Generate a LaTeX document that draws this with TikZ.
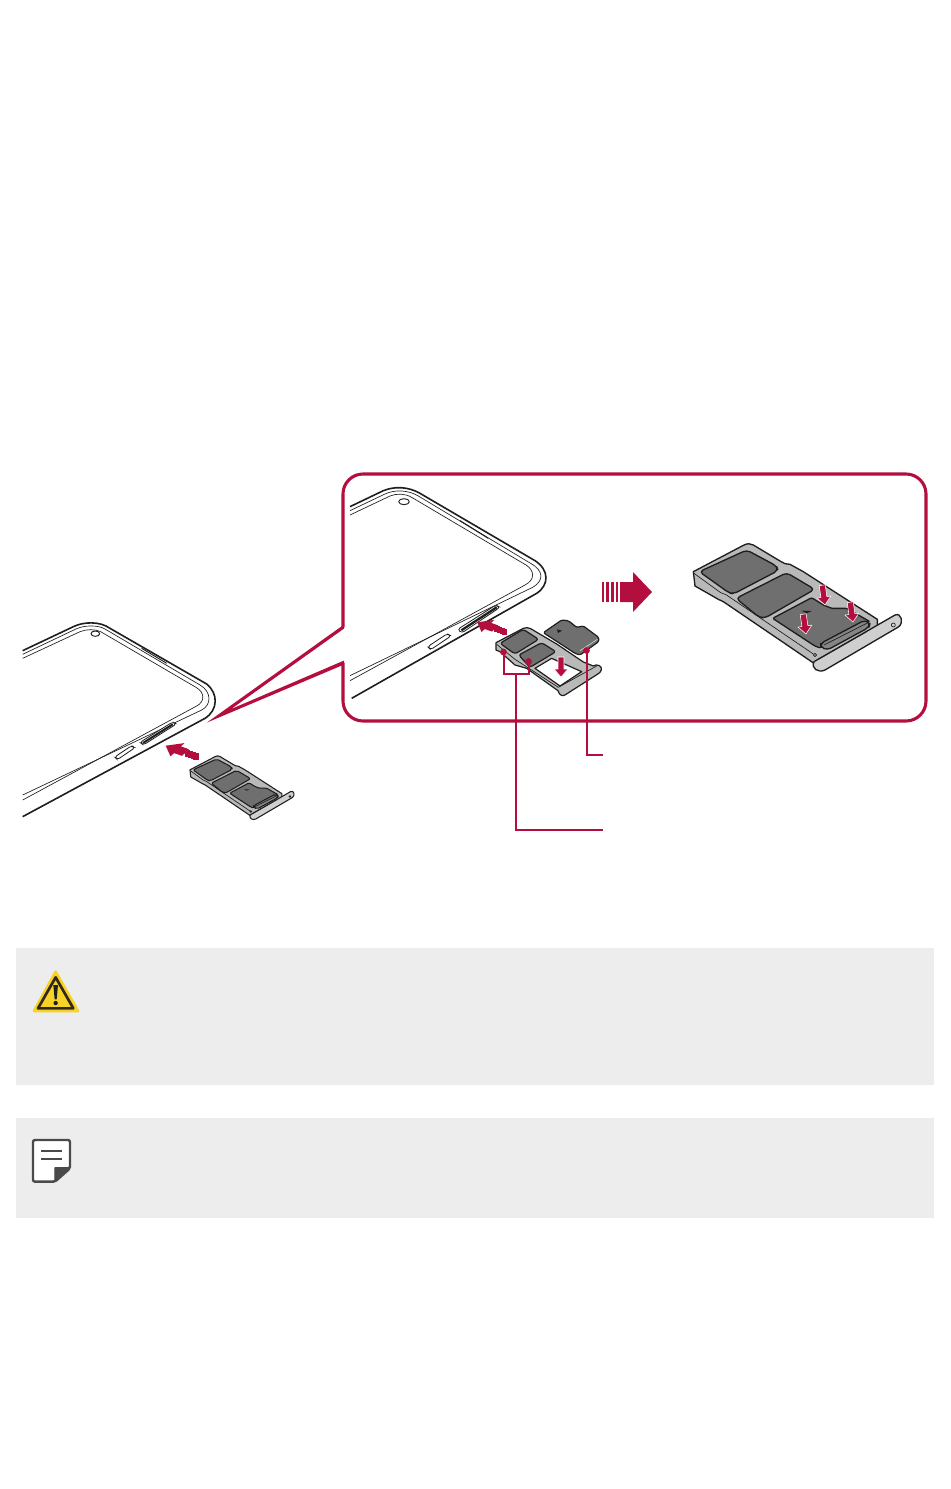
\documentclass[tikz,border=0pt]{standalone}
\definecolor{lgred}{HTML}{B30E3E}
\definecolor{ink}{HTML}{1E1E1E}
\definecolor{panel}{HTML}{EDEDED}
\definecolor{traygray}{HTML}{B9B9B9}
\definecolor{slotgray}{HTML}{6F6F6F}
\definecolor{lightgray2}{HTML}{CFCFCF}
\definecolor{notedark}{HTML}{4A4A4A}
\definecolor{warnyellow}{HTML}{F5D327}
\tikzset{
  outerline/.style={draw=ink,line width=1.2pt,line join=round},
  innerline/.style={draw=ink,line width=0.5pt,line join=round},
  redline/.style={draw=lgred,line width=2.3pt,line join=miter},
  leader/.style={draw=lgred,line width=1.5pt},
}
% striped arrow, tip at the origin, pointing along local +x
\newcommand{\stripearrow}[3]{%
  \begin{scope}[shift={(#1,#2)},#3]
    \fill[lgred] (0,0) -- (-19,-20) -- (-19,-10) -- (-32,-10) -- (-32,10) -- (-19,10) -- (-19,20) -- cycle;
    \foreach \a/\b in {-36/-34,-41/-38.5,-46/-43.5,-50/-48}{\fill[lgred] (\a,-10) rectangle (\b,10);}
  \end{scope}}
% small down arrow, tip at the origin
\newcommand{\downred}[4]{%
  \begin{scope}[shift={(#1,#2)},rotate=#3,scale=#4]
    \filldraw[fill=lgred,draw=white,line width=0.4pt,line join=miter] (0,0) -- (-7,-8) -- (-3,-8) -- (-3,-20) -- (3,-20) -- (3,-8) -- (7,-8) -- cycle;
  \end{scope}}
% complete tray, drawn in the coordinates of the large one: x, y, scale, line width, corner radius
\newcommand{\tray}[5]{%
  \begin{scope}[shift={(#1,#2)},scale=#3,every path/.append style={line join=round}]
    \path[draw=ink,line width=#4,fill=traygray] (310,125) -- (462,45) .. controls (472,40) and (482,40) .. (490,45) -- (570,93) -- (585,101) -- (600,103) -- (640,125) -- (862,268) -- (862,290) -- (700,410) -- (672,400) -- (400,215) -- (385,208) -- (315,168) -- cycle;
    \path[innerline] (312,130) -- (392,188) -- (408,194) -- (670,372);
    \path[draw=ink,line width=#4,fill=slotgray,rounded corners=#5] (328,125) -- (470,60) -- (560,108) -- (564,122) -- (430,192) -- (416,188) -- cycle;
    \path[draw=ink,line width=#4,fill=slotgray,rounded corners=#5] (438,205) -- (590,128) -- (674,178) -- (525,264) -- (508,262) -- cycle;
    \path[draw=ink,line width=#4,fill=slotgray,rounded corners=1pt] (548,265) -- (665,203) -- (700,225) -- (725,235) -- (770,235) -- (840,275) -- (690,354) -- (673,347) -- cycle;
    \path[draw=ink,line width=#4,fill=slotgray!85!white,rounded corners=#5] (692,340) -- (825,270) -- (840,280) -- (837,292) -- (712,360) -- (692,352) -- cycle;
    \path[innerline] (702,345) -- (830,280);
    \path[draw=ink,line width=#4,fill=lightgray2] (672,395) -- (915,255) .. controls (935,247) and (942,280) .. (925,291) -- (705,420) .. controls (685,430) and (662,415) .. (672,395) -- cycle;
    \path[innerline] (685,388) -- (830,305);
    \path[innerline,fill=lightgray2] (910,285) circle (6);
    \path[innerline] (675,375) circle (5);
    \fill[ink] (635,242) -- (665,243) -- (650,250) -- cycle;
  \end{scope}}
\begin{document}
\begin{tikzpicture}[x=0.75pt,y=-0.75pt]
\useasboundingbox (0,0) rectangle (950,1489);

% grey panels
\fill[panel] (16,948) rectangle (934,1085);
\fill[panel] (16,1118) rectangle (934,1218);

% warning icon
\begin{scope}[shift={(10,940)},scale=1/3]
  \path[fill=warnyellow,draw=warnyellow,line width=2pt,line join=round] (137,95) -- (72,213) -- (204,213) -- cycle;
  \path[draw=ink!90!orange,line width=2pt,line join=round,fill=warnyellow] (137,112) -- (84,205) -- (190,205) -- cycle;
  \fill[ink] (130,135) -- (144,135) -- (140,178) -- (134,178) -- cycle;
  \fill[ink] (137,189) circle (6.5);
\end{scope}

% note icon
\begin{scope}[shift={(10,940)},scale=1/3]
  \path[draw=notedark,fill=white,line width=1.8pt,rounded corners=1.5pt,line join=round] (69,600) -- (180,600) -- (180,685) -- (135,725) -- (69,725) -- cycle;
  \path[fill=notedark,draw=notedark,line width=1pt,line join=round] (135,725) -- (135,683) -- (180,683) -- cycle;
  \draw[notedark,line width=1.4pt] (94,632) -- (156,632) (94,657) -- (156,657);
\end{scope}

% callout frame and pointer
\path[redline,rounded corners=15pt] (343,627) -- (343,474) -- (926,474) -- (926,721) -- (343,721) -- (343,663);
\fill[lgred] (207,722.5) -- (344.1,624.5) -- (344.1,628.5) -- (231,709.1) -- (344.1,660.5) -- (344.1,664.5) -- cycle;

% small phone
\begin{scope}[shift={(10,610)},scale=1/3]
  \path[outerline] (38,122) -- (190,50) .. controls (220,35) and (270,33) .. (300,55) -- (590,222) .. controls (625,250) and (625,300) .. (585,325) -- (38,620);
  \path[innerline] (38,133) -- (200,56) .. controls (225,45) and (265,45) .. (285,57) -- (570,225) .. controls (605,245) and (605,285) .. (575,300) -- (38,555);
  \path[innerline] (38,145) -- (210,65) .. controls (230,57) and (255,57) .. (272,65) -- (558,232) .. controls (585,247) and (585,275) .. (560,288) -- (38,570);
  \path[innerline,line width=0.7pt] (256,71) ellipse (13 and 8);
  \path[draw=ink,line width=0.7pt] (395,115) -- (470,160);
  \path[draw=ink,line width=0.6pt,fill=white,rounded corners=2pt] (390,397) -- (488,336) -- (499,342) -- (400,405) -- cycle;
  \path[draw=ink,line width=1.5pt] (399,399) -- (488,343);
  \path[draw=ink,line width=0.6pt,fill=white,rounded corners=2pt] (314,441) -- (365,407) -- (375,413) -- (322,449) -- cycle;
\end{scope}

% large phone
\begin{scope}[shift={(340,470)},scale=1/3]
  \path[outerline] (30,110) -- (130,62) .. controls (165,48) and (205,50) .. (240,70) -- (585,272) .. controls (628,300) and (628,345) .. (590,370) -- (35,685);
  \path[innerline] (30,122) -- (135,72) .. controls (165,58) and (205,60) .. (235,78) -- (572,280) .. controls (612,303) and (612,332) .. (578,352) -- (30,617);
  \path[innerline] (30,135) -- (150,78) .. controls (170,70) and (195,70) .. (215,82) -- (558,285) .. controls (585,302) and (585,330) .. (555,345) -- (30,632);
  \path[innerline,line width=0.7pt] (192,95) ellipse (16 and 9);
  \path[draw=ink,line width=0.8pt] (360,152) -- (445,205);
  \path[draw=ink,line width=0.6pt,fill=white,rounded corners=2pt] (353,478) -- (468,405) -- (480,412) -- (365,489) -- cycle;
  \path[draw=ink,line width=1.7pt] (364,481) -- (470,412);
  \path[draw=ink,line width=0.6pt,fill=white,rounded corners=2pt] (263,530) -- (322,491) -- (333,498) -- (272,539) -- cycle;
\end{scope}

% insert arrows
\stripearrow{165.7}{745.7}{x={(-0.465pt,0.16pt)},y={(0.2625pt,0.25pt)}}
\stripearrow{477.3}{622.3}{x={(-0.42pt,0.145pt)},y={(0.24pt,0.23pt)}}
\stripearrow{652}{592}{}

% small and large complete trays
\tray{138.3}{749}{1/6}{0.8pt}{1.5pt}
\tray{590}{530}{1/3}{1pt}{3pt}

% red arrows on the large tray
\downred{825}{605}{8}{1}
\downred{853}{622}{8}{1}
\downred{806}{634}{8}{1}

% tray with the cards being placed
\begin{scope}[shift={(480,600)},scale=1/3,every path/.append style={line join=round}]
  \path[draw=ink,line width=0.9pt,fill=traygray] (48,128) -- (130,85) .. controls (138,82) and (145,82) .. (152,86) -- (230,132) -- (310,186) -- (340,198) .. controls (350,190) and (368,198) .. (364,210) .. controls (362,216) and (358,219) .. (355,221) -- (258,283) .. controls (250,290) and (238,288) .. (234,272) -- (140,205) -- (105,195) -- (60,155) -- (48,150) -- cycle;
  \path[innerline] (50,133) -- (105,178) -- (235,262) -- (350,198);
  \path[draw=ink,line width=0.9pt,fill=slotgray,rounded corners=2pt] (60,130) -- (130,88) -- (176,118) -- (105,162) -- cycle;
  \path[draw=ink,line width=0.9pt,fill=slotgray,rounded corners=2pt] (116,165) -- (185,128) -- (228,155) -- (150,202) -- cycle;
  \path[draw=ink,line width=0.9pt,fill=white] (165,205) -- (215,175) -- (305,215) -- (240,258) -- cycle;
  \path[draw=ink,line width=0.9pt,fill=slotgray,rounded corners=1pt] (190,98) -- (245,60) -- (265,62) -- (290,82) -- (310,78) -- (356,112) -- (356,125) -- (300,165) -- (285,160) -- cycle;
  \path[draw=lightgray2,line width=0.5pt] (300,152) -- (352,118);
  \fill[ink] (231,88) -- (246,92) -- (234,99) -- cycle;
\end{scope}
\downred{561}{677}{0}{1.0}

% leaders
\fill[lgred] (503.5,652) circle (3.4);
\fill[lgred] (528.5,661.5) circle (3.4);
\fill[lgred] (586.5,650.5) circle (3.4);
\path[leader] (503.5,652) -- (503.5,674) -- (528.5,674) -- (528.5,661.5);
\path[leader] (515.5,674) -- (515.5,830) -- (603,830);
\path[leader] (586.5,650.5) -- (586.5,755) -- (603,755);

\end{tikzpicture}
\end{document}
